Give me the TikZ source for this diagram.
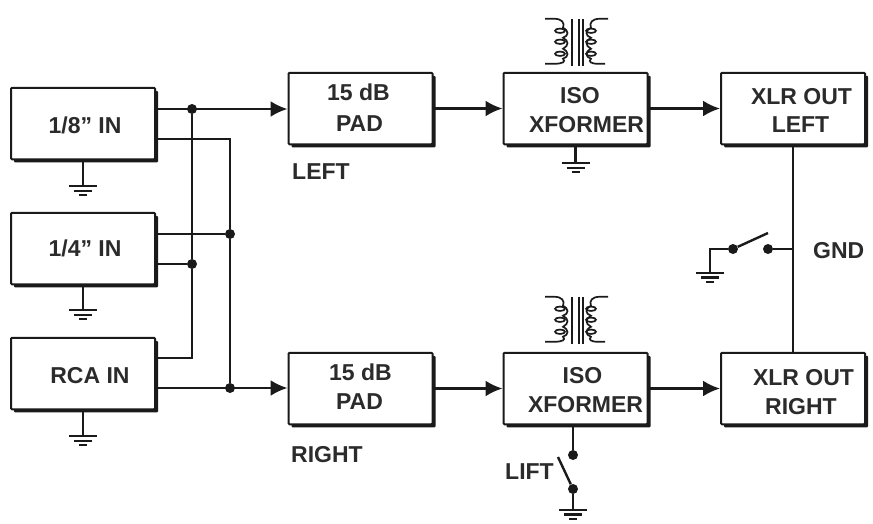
\documentclass[tikz,border=0pt]{standalone}
\usepackage{fontspec}
\setmainfont{Liberation Sans}
\usepackage{xcolor}
\usetikzlibrary{calc,shadows,arrows.meta}
\definecolor{wireColor}{HTML}{1A1A1A}
\definecolor{textColor}{HTML}{2B2B2B}
\newcommand{\boxline}[3]{\hspace*{\dimexpr #1pt*2\relax}\raisebox{#2pt}[16pt][0pt]{#3}}
\tikzstyle{stagebox}=[rectangle, draw=wireColor, line width=2pt, rounded corners=1pt, fill=white, minimum width=144pt, minimum height=71.5pt, align=center, font=\fontsize{23}{29}\selectfont\bfseries, text=textColor, inner sep=0pt, drop shadow={shadow xshift=3pt, shadow yshift=-3pt, fill=wireColor, opacity=1}]
\tikzstyle{caption}=[font=\fontsize{23}{29}\selectfont\bfseries, text=textColor, inner sep=0pt]
\tikzset{
	wire/.style={
		draw=wireColor,
		line width=2.4pt
	},
	coil/.style={
		draw=wireColor,
		line width=1.7pt
	},
	connector/.style={
		wire,
		-{Latex[length=17pt,width=16pt]}
	},
	dot/.style={
		circle,
		fill=wireColor,
		minimum size=10pt,
		inner sep=0pt
	},
	gnd/.pic={
		\draw[wire] (-14,0) -- (14,0);
		\draw[wire] (-9,-4.5) -- (9,-4.5);
		\draw[wire] (-4,-9) -- (4,-9);
	},
	xformer/.pic={
		\draw[coil] (-4,25) -- (-4,-22);
		\draw[coil] (3,25) -- (3,-22);
		\draw[coil] (7,25) -- (7,-22);
		% left winding
		\draw[coil] (-31,25) -- (-22,25) .. controls (-14,25) and (-11,21) .. (-13,16)
			.. controls (-7,13) and (-7,8) .. (-13,6) .. controls (-7,3) and (-7,-2) .. (-13,-5)
			.. controls (-7,-8) and (-7,-13) .. (-13,-15) .. controls (-10,-18) and (-13,-20) .. (-22,-20) -- (-31,-20);
		\foreach \ly in {13,2,-10} {\draw[coil] (-16,\ly) ellipse (5 and 2.2);}
		% right winding
		\draw[coil] (32,25) -- (24,25) .. controls (16,25) and (13,21) .. (15,16)
			.. controls (9,13) and (9,8) .. (15,6) .. controls (9,3) and (9,-2) .. (15,-5)
			.. controls (9,-8) and (9,-13) .. (15,-15) .. controls (12,-18) and (15,-20) .. (22,-20) -- (29,-20);
		\foreach \ly in {13,2,-10} {\draw[coil] (15,\ly) ellipse (5 and 2.2);}
	}
}

\begin{document}
\begin{tikzpicture}[x=1pt,y=1pt,node distance=125pt]
	\useasboundingbox (0,0) rectangle (873,-523);
	
	\node(InEighth)[stagebox] at (83,-123.5){\boxline{2}{-1.5}{1/8'' IN}};
	\node(InQuarter)[stagebox, below of=InEighth]{\boxline{2}{0}{1/4'' IN}};
	\node(InRca)[stagebox, below of=InQuarter]{\boxline{7}{-1.5}{RCA IN}};
	
	\node(PadLeft)[stagebox] at (360.5,-108.5){\boxline{-2}{2}{15 dB}\\\boxline{-1}{0}{PAD}};
	\node(IsoLeft)[stagebox, right of=PadLeft, node distance=215pt]{\boxline{4.5}{-1}{ISO}\\\boxline{11}{-1}{XFORMER}};
	\node(XlrLeft)[stagebox, right of=IsoLeft, node distance=217.5pt]{\boxline{8.5}{-2}{XLR OUT}\\\boxline{7.5}{-1}{LEFT}};
	
	\node(PadRight)[stagebox, below of=PadLeft, node distance=280pt]{\boxline{0}{2}{15 dB}\\\boxline{-1}{2}{PAD}};
	\node(IsoRight)[stagebox, right of=PadRight, node distance=215pt]{\boxline{7}{-1}{ISO}\\\boxline{10}{-1}{XFORMER}};
	\node(XlrRight)[stagebox, right of=IsoRight, node distance=217.5pt]{\boxline{10.5}{-3}{XLR OUT}\\\boxline{8}{-3}{RIGHT}};
	
	\node(LeftText)[caption, anchor=west] at (292,-172){LEFT};
	\node(RightText)[caption, anchor=west] at (291,-455){RIGHT};
	\node(GndText)[caption, anchor=west] at (813,-251){GND};
	\node(LiftText)[caption, anchor=west] at (505,-472){LIFT};
	
	% junctions on the two buses
	\node(JoinA)[dot] at (192,-109){};
	\node(JoinB)[dot] at (230,-234){};
	\node(JoinC)[dot] at (192,-264){};
	\node(JoinD)[dot] at (230,-388){};
	
	\draw [connector] (JoinA -| InEighth.east) -- (PadLeft.west |- JoinA);
	\coordinate (EighthOut) at ($(InEighth.east)+(0,-15.5)$);
	\draw [wire] (EighthOut) -| (JoinB);
	\draw [wire] (JoinB) -- (JoinD);
	\draw [wire] (JoinB -| InQuarter.east) -- (JoinB);
	\draw [wire] (JoinC -| InQuarter.east) -- (JoinC);
	\coordinate (RcaOut) at ($(InRca.east)+(0,15.5)$);
	\draw [wire] (RcaOut) -| (JoinC);
	\draw [wire] (JoinC) -- (JoinA);
	\draw [connector] (JoinD -| InRca.east) -- (PadRight.west |- JoinD);
	
	\draw [connector] (PadLeft) -- (IsoLeft);
	\draw [connector] (IsoLeft) -- (XlrLeft);
	\draw [connector] (PadRight) -- (IsoRight);
	\draw [connector] (IsoRight) -- (XlrRight);
	
	% ground under each input
	\foreach \src/\drop in {InEighth/26, InQuarter/25, InRca/26} {
		\coordinate (\src Gnd) at ($(\src.south)+(0,-\drop)$);
		\draw [wire] (\src.south) -- (\src Gnd);
		\pic at (\src Gnd) {gnd};
	}
	\coordinate (IsoGnd) at ($(IsoLeft.south)+(0,-18)$);
	\draw [wire] (IsoLeft.south) -- (IsoGnd);
	\pic at (IsoGnd) {gnd};
	
	\pic at ($(IsoLeft.north)+(0.5,28)$) {xformer};
	\pic at ($(IsoRight.north)+(0.5,30)$) {xformer};
	
	% ground switch between the outputs
	\draw [wire] (XlrLeft) -- (XlrRight);
	\node(GndOpen)[dot] at (768,-249){};
	\node(GndPole)[dot] at (733,-249){};
	\coordinate (GndEnd) at (710,-273);
	\draw [wire] (GndOpen) -- (GndOpen -| XlrLeft);
	\draw [wire] (GndPole) -| (GndEnd);
	\draw [wire] (GndPole) -- ++(35,16);
	\pic at (GndEnd) {gnd};
	
	% lift switch
	\node(LiftOpen)[dot] at (573,-455){};
	\node(LiftPole)[dot] at (573,-489){};
	\coordinate (LiftEnd) at (573,-510);
	\draw [wire] (LiftOpen |- IsoRight.south) -- (LiftOpen);
	\draw [wire] (LiftPole) -- (LiftEnd);
	\draw [wire] (LiftPole) -- ++(-15,32);
	\pic at (LiftEnd) {gnd};
\end{tikzpicture}
\end{document}
